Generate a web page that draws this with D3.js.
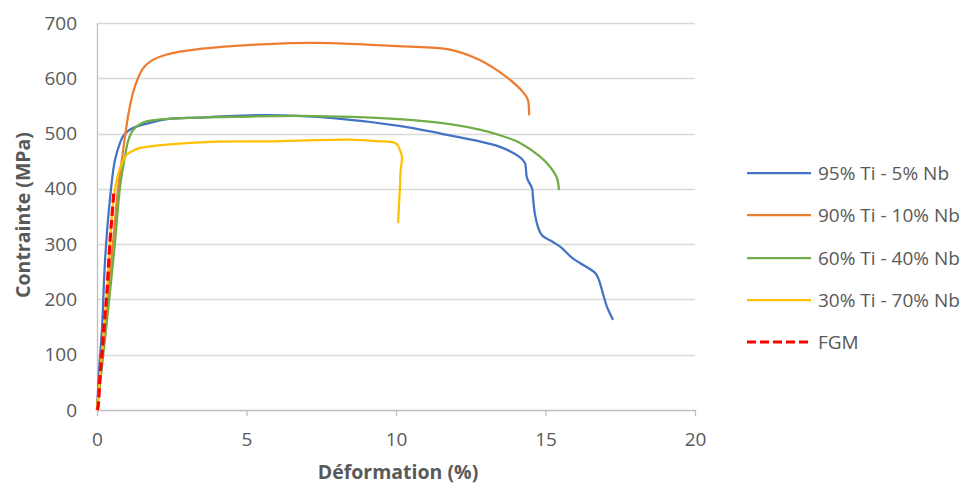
<!DOCTYPE html>
<html><head><meta charset="utf-8">
<script src="https://cdn.jsdelivr.net/npm/d3@7"></script>
<style>body{margin:0;background:#fff}svg{display:block}text{font-family:"Open Sans",sans-serif}</style>
</head><body><svg id="c" width="966" height="486"></svg>
<script>
const seriesNames = ["95% Ti - 5% Nb","90% Ti - 10% Nb","60% Ti - 40% Nb","30% Ti - 70% Nb","FGM"];
const seriesColors = ["#4472C4","#ED7D31","#70AD47","#FFC000","#FF0000"];
const xTicks = [0,5,10,15,20];
const yTicks = [0,100,200,300,400,500,600,700];

const blueStrain  = [0,0.08,0.17,0.27,0.43,0.6,0.77,0.87,1.0,1.2,1.6,2.34,3.4,5.1,6.2,7.9,10.1,11.5,12.6,13.48,14.15,14.31,14.38,14.55,14.58,14.65,14.75,14.88,15.25,15.55,15.89,16.15,16.66,16.76,17.06,17.26];
const blueStress  = [0,80,150,271,380,452,483,495,503,510,517,526,529,533,533,528,514,500,488,476,457,447,420,401,385,353,331,316,304,293,275,266,248,239,186,163];

const orangeStrain = [0,0.3,0.6,0.7,0.84,0.95,1.05,1.2,1.37,1.54,1.8,2.34,3.44,5.7,7.36,10.1,11.8,12.8,13.7,14.25,14.41,14.45];
const orangeStress = [0,170,340,398,456,500,535,573,600,618,631,643,653,662,664,658,652,633,602,575,561,533];

const greenStrain = [0,0.2,0.43,0.6,0.77,0.94,1.05,1.2,1.54,2.0,2.9,4.5,6.8,10.1,11.8,12.8,13.48,14.15,14.8,15.15,15.38,15.45];
const greenStress = [0,95,211,302,403,460,488,506,520,525,528,530,532,526,517,507,497,483,459,440,420,398];

const yellowStrain = [0,0.3,0.55,0.7,0.85,1.0,1.2,1.44,1.8,2.34,3.78,5.7,8.46,9.46,9.8,9.97,10.07,10.13,10.2,10.15,10.13,10.07];
const yellowStress = [0,190,380,425,448,462,469,474,477,480,485,486,489,486,485,483,478,470,458,430,403,338];

const fgmStrain = [0,0.03,0.1,0.17,0.25,0.33,0.43,0.5,0.57];
const fgmStress = [0,4,60,103,160,211,302,350,398];

const seriesData = [[blueStrain,blueStress],[orangeStrain,orangeStress],[greenStrain,greenStress],[yellowStrain,yellowStress],[fgmStrain,fgmStress]];

const svg = d3.select("#c");
const x = d3.scaleLinear().domain([0,20]).range([97,695]);
const y = d3.scaleLinear().domain([0,700]).range([410,23]);
const grey = "#595959";

svg.append("g").selectAll("line").data(yTicks.filter(d=>d>0)).join("line")
  .attr("x1",x(0)).attr("x2",x(20)).attr("y1",d=>Math.round(y(d))+0.5).attr("y2",d=>Math.round(y(d))+0.5)
  .attr("stroke","#d9d9d9").attr("stroke-width",1.3);

const ya = svg.append("g").attr("transform",`translate(${x(0)},0)`)
  .call(d3.axisLeft(y).tickValues(yTicks).tickSize(0).tickPadding(20));
ya.select(".domain").attr("stroke","#bfbfbf").attr("stroke-width",1.3);
ya.selectAll("text").attr("fill",grey).attr("font-size",19).attr("font-family","'Open Sans',sans-serif");

const xa = svg.append("g").attr("transform",`translate(0,${y(0)})`)
  .call(d3.axisBottom(x).tickValues(xTicks).tickSize(6).tickSizeOuter(0).tickPadding(17));
xa.select(".domain").attr("stroke","#bfbfbf").attr("stroke-width",1.3);
xa.selectAll("line").attr("stroke","#bfbfbf").attr("stroke-width",1.3);
xa.selectAll("text").attr("fill",grey).attr("font-size",19).attr("font-family","'Open Sans',sans-serif");

svg.append("text").attr("x",398).attr("y",472).attr("dy","0.35em").attr("text-anchor","middle")
  .attr("font-size",19.5).attr("font-weight","bold").attr("fill",grey).text("Déformation (%)");
svg.append("text").attr("transform","translate(23,215) rotate(-90)").attr("dy","0.35em").attr("text-anchor","middle")
  .attr("font-size",19.5).attr("font-weight","bold").attr("fill",grey).text("Contrainte (MPa)");

const line = d3.line().x(d=>x(d[0])).y(d=>y(d[1])).curve(d3.curveCatmullRom.alpha(0.5));
seriesData.forEach((s,i)=>{
  const pts = s[0].map((v,j)=>[v,s[1][j]]);
  svg.append("path").datum(pts).attr("d",line).attr("fill","none")
    .attr("stroke",seriesColors[i]).attr("stroke-width", i===4?3.2:2.25)
    .attr("stroke-dasharray", i===4?"9,4":null).attr("stroke-linejoin","round");
});

const legY = [173,215,258,300,342];
const lg = svg.append("g");
seriesNames.forEach((n,i)=>{
  lg.append("line").attr("x1",747).attr("x2",811).attr("y1",legY[i]).attr("y2",legY[i])
    .attr("stroke",seriesColors[i]).attr("stroke-width",i===4?3.2:2.25)
    .attr("stroke-dasharray",i===4?"9,4":null);
  lg.append("text").attr("x",818).attr("y",legY[i]).attr("dy","0.35em")
    .attr("font-size",19).attr("fill",grey).text(n);
});
</script></body></html>
